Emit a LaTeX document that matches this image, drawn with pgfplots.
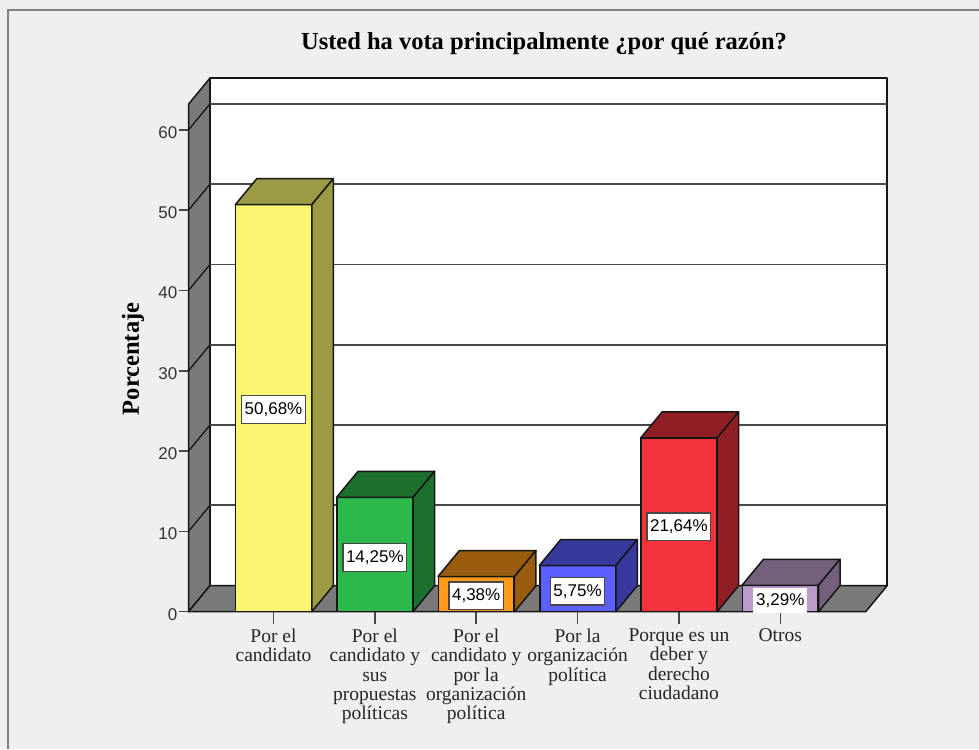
\documentclass[border=0pt]{standalone}
\usepackage{pgfplots}
\pgfplotsset{compat=1.18}
\usepackage{fontspec}
\setmainfont{Liberation Serif}
\newfontfamily\arial{Liberation Sans}
\definecolor{bg}{HTML}{EFEFEF}
\definecolor{frame}{HTML}{808080}
\definecolor{wall}{HTML}{7A7A7A}
\definecolor{gridc}{HTML}{484848}
\definecolor{edge}{HTML}{161616}
\definecolor{yel}{HTML}{FBF671}\definecolor{yeld}{HTML}{9C9A45}
\definecolor{gre}{HTML}{2DB84B}\definecolor{gred}{HTML}{1C6F2D}
\definecolor{ora}{HTML}{FF9A1A}\definecolor{orad}{HTML}{9A5D10}
\definecolor{blu}{HTML}{5B60FF}\definecolor{blud}{HTML}{37399C}
\definecolor{red2}{HTML}{F2333C}\definecolor{redd}{HTML}{8F1F24}
\definecolor{pur}{HTML}{BA9BCB}\definecolor{purd}{HTML}{75607C}
\pgfplotsset{
  face/.style={draw=edge,line width=1.5pt,line join=round},
  lab/.style={draw=none,mark=none,point meta=explicit symbolic,nodes near coords,
    nodes near coords style={anchor=center,yshift=-1.3pt,font=\arial\fontsize{17}{19}\selectfont,fill=white,
      draw=gridc,line width=1.3pt,inner xsep=3pt,inner ysep=0pt,minimum height=27.5pt,text=black}},
}
\begin{document}
\begin{tikzpicture}
\useasboundingbox (0pt,0pt) rectangle (979pt,749pt);
\fill[bg] (0pt,0pt) rectangle (979pt,749pt);
\draw[frame,line width=2.5pt] (8pt,0pt) -- (8pt,739pt) -- (979pt,739pt);
\begin{axis}[
  at={(188.5pt,137.3pt)},anchor=south west,
  scale only axis,width=677.2pt,height=507.5pt,
  xmin=-0.8387,xmax=5.843,ymin=0,ymax=63.2,
  clip=false,
  axis x line=bottom,axis y line=left,axis line style={-,line width=1.5pt,color=edge},
  tick align=outside,
  major tick length=10pt,
  xtick={0,1,2,3,4,5},
  ytick={0,10,20,30,40,50,60},
  minor tick num=0,
  xtick style={line width=1.5pt,color=gridc,/pgfplots/major tick length=12pt},
  ytick style={line width=1.5pt,color=gridc},
  xticklabels={{Por el\\candidato},{Por el\\candidato y\\sus\\propuestas\\políticas},{Por el\\candidato y\\por la\\organización\\política},{Por la\\organización\\política},{Porque es un\\deber y\\derecho\\ciudadano},{Otros}},
  x tick label style={align=center,font=\fontsize{19.5}{19.3}\selectfont,text=black!85,inner sep=0pt,yshift=-7pt},
  y tick label style={font=\arial\fontsize{17}{19}\selectfont,text=black!80,inner sep=0pt,xshift=-1pt,yshift=-2.5pt,/pgf/number format/assume math mode=true},
  title={Usted ha vota principalmente ¿por qué razón?},
  title style={at={(axis description cs:0.525,1.107)},anchor=center,font=\bfseries\fontsize{24.5}{28}\selectfont,inner sep=0pt},
  ylabel={Porcentaje},
  ylabel style={at={(axis description cs:-0.082,0.498)},anchor=center,font=\bfseries\fontsize{24.5}{28}\selectfont,inner sep=0pt},
]
% walls and floor
\addplot[fill=white,face] coordinates {(-0.627,3.24) (6.055,3.24) (6.055,66.44) (-0.627,66.44)} --cycle;
\addplot[fill=wall,face] coordinates {(-0.8387,0) (-0.627,3.24) (-0.627,66.44) (-0.8387,63.2)} --cycle;
\addplot[fill=wall,face] coordinates {(-0.8387,0) (5.843,0) (6.055,3.24) (-0.627,3.24)} --cycle;
% grid lines
\addplot[gridc,line width=1.8pt,unbounded coords=jump] coordinates {
 (-0.627,13.24) (6.055,13.24) (0,nan)
 (-0.627,23.24) (6.055,23.24) (0,nan)
 (-0.627,33.24) (6.055,33.24) (0,nan)
 (-0.627,43.24) (6.055,43.24) (0,nan)
 (-0.627,53.24) (6.055,53.24) (0,nan)
 (-0.627,63.24) (6.055,63.24)};
\addplot[edge,line width=1.3pt,unbounded coords=jump] coordinates {
 (-0.8387,10) (-0.627,13.24) (0,nan)
 (-0.8387,20) (-0.627,23.24) (0,nan)
 (-0.8387,30) (-0.627,33.24) (0,nan)
 (-0.8387,40) (-0.627,43.24) (0,nan)
 (-0.8387,50) (-0.627,53.24) (0,nan)
 (-0.8387,60) (-0.627,63.24)};
% bar 1
\addplot[ybar,bar width=75.6pt,bar shift=0pt,fill=yel,face] coordinates {(0,50.68)};
\addplot[fill=yeld,face] coordinates {(-0.3775,50.68) (0.3775,50.68) (0.5895,53.92) (-0.1655,53.92)} --cycle;
\addplot[fill=yeld,face] coordinates {(0.3775,0) (0.5895,3.24) (0.5895,53.92) (0.3775,50.68)} --cycle;
% bar 2
\addplot[ybar,bar width=75.6pt,bar shift=0pt,fill=gre,face] coordinates {(1,14.25)};
\addplot[fill=gred,face] coordinates {(0.6225,14.25) (1.3775,14.25) (1.5895,17.49) (0.8345,17.49)} --cycle;
\addplot[fill=gred,face] coordinates {(1.3775,0) (1.5895,3.24) (1.5895,17.49) (1.3775,14.25)} --cycle;
% bar 3
\addplot[ybar,bar width=75.6pt,bar shift=0pt,fill=ora,face] coordinates {(2,4.38)};
\addplot[fill=orad,face] coordinates {(1.6225,4.38) (2.3775,4.38) (2.5895,7.62) (1.8345,7.62)} --cycle;
\addplot[fill=orad,face] coordinates {(2.3775,0) (2.5895,3.24) (2.5895,7.62) (2.3775,4.38)} --cycle;
% bar 4
\addplot[ybar,bar width=75.6pt,bar shift=0pt,fill=blu,face] coordinates {(3,5.75)};
\addplot[fill=blud,face] coordinates {(2.6225,5.75) (3.3775,5.75) (3.5895,8.99) (2.8345,8.99)} --cycle;
\addplot[fill=blud,face] coordinates {(3.3775,0) (3.5895,3.24) (3.5895,8.99) (3.3775,5.75)} --cycle;
% bar 5
\addplot[ybar,bar width=75.6pt,bar shift=0pt,fill=red2,face] coordinates {(4,21.64)};
\addplot[fill=redd,face] coordinates {(3.6225,21.64) (4.3775,21.64) (4.5895,24.88) (3.8345,24.88)} --cycle;
\addplot[fill=redd,face] coordinates {(4.3775,0) (4.5895,3.24) (4.5895,24.88) (4.3775,21.64)} --cycle;
% bar 6
\addplot[ybar,bar width=75.6pt,bar shift=0pt,fill=pur,face] coordinates {(5,3.29)};
\addplot[fill=purd,face] coordinates {(4.6225,3.29) (5.3775,3.29) (5.5895,6.53) (4.8345,6.53)} --cycle;
\addplot[fill=purd,face] coordinates {(5.3775,0) (5.5895,3.24) (5.5895,6.53) (5.3775,3.29)} --cycle;
% value labels
\addplot[lab] coordinates {(0,25.34)[50,68\%]};
\addplot[lab] coordinates {(1,6.9)[14,25\%]};
\addplot[lab] coordinates {(2,2.15)[4,38\%]};
\addplot[lab] coordinates {(3,2.7)[5,75\%]};
\addplot[lab] coordinates {(4,10.75)[21,64\%]};
\addplot[lab,nodes near coords style={draw=none,minimum height=25pt}] coordinates {(5,1.55)[3,29\%]};
\end{axis}
\end{tikzpicture}
\end{document}
